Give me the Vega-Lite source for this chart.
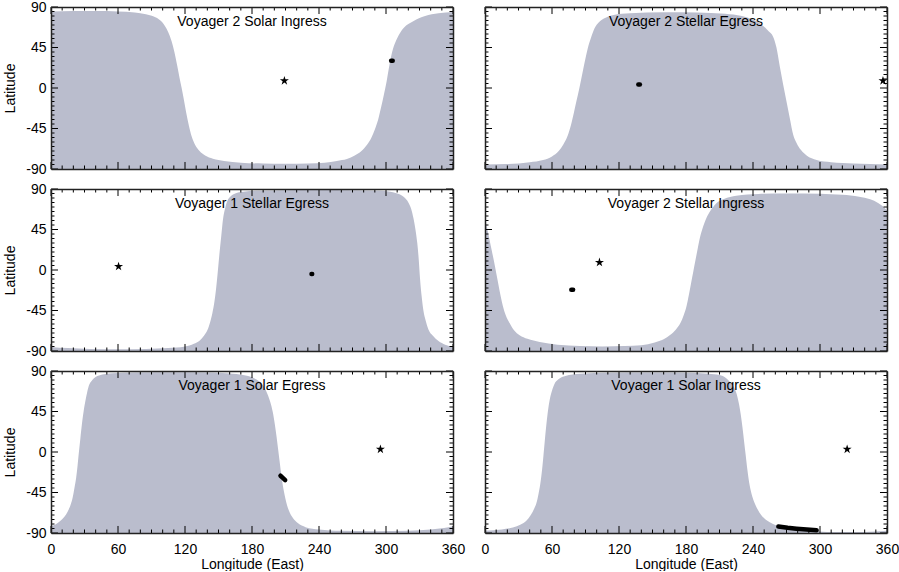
{
"$schema":"https://vega.github.io/schema/vega-lite/v6.json",
"background":"white",
"padding":{"left":3,"top":0,"right":1,"bottom":0},
"datasets":{
"curves":[
{"p":1,"lon":0,"lat":85},{"p":1,"lon":20,"lat":85.5},{"p":1,"lon":40,"lat":85.5},{"p":1,"lon":60,"lat":85},{"p":1,"lon":75,"lat":84},{"p":1,"lon":85,"lat":82},{"p":1,"lon":92,"lat":79.5},{"p":1,"lon":98,"lat":75},{"p":1,"lon":102,"lat":69},{"p":1,"lon":105,"lat":62},{"p":1,"lon":108,"lat":52},{"p":1,"lon":110.5,"lat":40},{"p":1,"lon":113,"lat":25},{"p":1,"lon":115,"lat":12},{"p":1,"lon":117,"lat":0},{"p":1,"lon":119,"lat":-13},{"p":1,"lon":121,"lat":-27},{"p":1,"lon":123.5,"lat":-42},{"p":1,"lon":126,"lat":-54},{"p":1,"lon":129,"lat":-63},{"p":1,"lon":133,"lat":-70},{"p":1,"lon":138,"lat":-75},{"p":1,"lon":145,"lat":-78.5},{"p":1,"lon":155,"lat":-81},{"p":1,"lon":170,"lat":-83},{"p":1,"lon":190,"lat":-84},{"p":1,"lon":210,"lat":-84.3},{"p":1,"lon":230,"lat":-84},{"p":1,"lon":245,"lat":-83},{"p":1,"lon":256,"lat":-81},{"p":1,"lon":265,"lat":-79},{"p":1,"lon":272,"lat":-75},{"p":1,"lon":278,"lat":-70},{"p":1,"lon":283,"lat":-63},{"p":1,"lon":287,"lat":-55},{"p":1,"lon":290,"lat":-46},{"p":1,"lon":293,"lat":-35},{"p":1,"lon":295.5,"lat":-22},{"p":1,"lon":298,"lat":-8},{"p":1,"lon":300.5,"lat":7},{"p":1,"lon":303,"lat":25},{"p":1,"lon":305.5,"lat":40},{"p":1,"lon":308.5,"lat":51},{"p":1,"lon":312,"lat":60},{"p":1,"lon":316,"lat":67},{"p":1,"lon":324,"lat":74},{"p":1,"lon":335,"lat":80},{"p":1,"lon":347,"lat":83},{"p":1,"lon":360,"lat":84.5},
{"p":2,"lon":0,"lat":-85},{"p":2,"lon":20,"lat":-84.5},{"p":2,"lon":40,"lat":-82.5},{"p":2,"lon":52,"lat":-80},{"p":2,"lon":60,"lat":-76},{"p":2,"lon":66,"lat":-70},{"p":2,"lon":70,"lat":-63},{"p":2,"lon":74,"lat":-53},{"p":2,"lon":77,"lat":-41},{"p":2,"lon":79.5,"lat":-28},{"p":2,"lon":82,"lat":-14},{"p":2,"lon":84,"lat":-3},{"p":2,"lon":86,"lat":9},{"p":2,"lon":88,"lat":21},{"p":2,"lon":90,"lat":33},{"p":2,"lon":92,"lat":44},{"p":2,"lon":95,"lat":56},{"p":2,"lon":98,"lat":66},{"p":2,"lon":102,"lat":73},{"p":2,"lon":108,"lat":78},{"p":2,"lon":115,"lat":81},{"p":2,"lon":130,"lat":83},{"p":2,"lon":160,"lat":84.2},{"p":2,"lon":190,"lat":84},{"p":2,"lon":215,"lat":82.5},{"p":2,"lon":230,"lat":80},{"p":2,"lon":240,"lat":76},{"p":2,"lon":248,"lat":70},{"p":2,"lon":254,"lat":63},{"p":2,"lon":258,"lat":57},{"p":2,"lon":261,"lat":45},{"p":2,"lon":264,"lat":24},{"p":2,"lon":267,"lat":4},{"p":2,"lon":270,"lat":-15},{"p":2,"lon":273,"lat":-34},{"p":2,"lon":276,"lat":-52},{"p":2,"lon":279,"lat":-61},{"p":2,"lon":283,"lat":-69},{"p":2,"lon":288,"lat":-75},{"p":2,"lon":297,"lat":-80},{"p":2,"lon":310,"lat":-82.5},{"p":2,"lon":330,"lat":-84},{"p":2,"lon":360,"lat":-85},
{"p":3,"lon":0,"lat":-85.5},{"p":3,"lon":15,"lat":-86.8},{"p":3,"lon":35,"lat":-87.8},{"p":3,"lon":60,"lat":-88},{"p":3,"lon":85,"lat":-87.8},{"p":3,"lon":105,"lat":-86.8},{"p":3,"lon":120,"lat":-85},{"p":3,"lon":128,"lat":-82},{"p":3,"lon":133,"lat":-78.5},{"p":3,"lon":137,"lat":-73},{"p":3,"lon":140,"lat":-67},{"p":3,"lon":142.5,"lat":-58},{"p":3,"lon":144.5,"lat":-48},{"p":3,"lon":146.5,"lat":-34},{"p":3,"lon":148,"lat":-19},{"p":3,"lon":149.5,"lat":0},{"p":3,"lon":151,"lat":20},{"p":3,"lon":152.5,"lat":38},{"p":3,"lon":154,"lat":56},{"p":3,"lon":156,"lat":69},{"p":3,"lon":158,"lat":77},{"p":3,"lon":161,"lat":82},{"p":3,"lon":165,"lat":85},{"p":3,"lon":172,"lat":87},{"p":3,"lon":185,"lat":88},{"p":3,"lon":210,"lat":88.5},{"p":3,"lon":240,"lat":88.8},{"p":3,"lon":270,"lat":88.5},{"p":3,"lon":295,"lat":88},{"p":3,"lon":310,"lat":85},{"p":3,"lon":316,"lat":81},{"p":3,"lon":320,"lat":75},{"p":3,"lon":322.5,"lat":68},{"p":3,"lon":324.5,"lat":58},{"p":3,"lon":326.5,"lat":44},{"p":3,"lon":328,"lat":30},{"p":3,"lon":329.3,"lat":12},{"p":3,"lon":330.5,"lat":-10},{"p":3,"lon":332,"lat":-30},{"p":3,"lon":333.5,"lat":-45},{"p":3,"lon":335.5,"lat":-56},{"p":3,"lon":338,"lat":-66},{"p":3,"lon":342,"lat":-73},{"p":3,"lon":347,"lat":-79},{"p":3,"lon":353,"lat":-83},{"p":3,"lon":360,"lat":-85.5},
{"p":4,"lon":0,"lat":57},{"p":4,"lon":2,"lat":46},{"p":4,"lon":4,"lat":34},{"p":4,"lon":6,"lat":22},{"p":4,"lon":8,"lat":10},{"p":4,"lon":10,"lat":-3},{"p":4,"lon":12,"lat":-16},{"p":4,"lon":14,"lat":-29},{"p":4,"lon":16,"lat":-40},{"p":4,"lon":18.5,"lat":-50},{"p":4,"lon":22,"lat":-59},{"p":4,"lon":26,"lat":-67},{"p":4,"lon":31,"lat":-72.5},{"p":4,"lon":38,"lat":-76.5},{"p":4,"lon":49,"lat":-80},{"p":4,"lon":65,"lat":-83},{"p":4,"lon":85,"lat":-84.5},{"p":4,"lon":105,"lat":-85},{"p":4,"lon":125,"lat":-84.5},{"p":4,"lon":140,"lat":-83.5},{"p":4,"lon":152,"lat":-80.5},{"p":4,"lon":160,"lat":-77},{"p":4,"lon":166,"lat":-72},{"p":4,"lon":171,"lat":-66},{"p":4,"lon":175,"lat":-59},{"p":4,"lon":178,"lat":-50},{"p":4,"lon":180.5,"lat":-40},{"p":4,"lon":182.5,"lat":-28},{"p":4,"lon":184.5,"lat":-15},{"p":4,"lon":186.5,"lat":-2},{"p":4,"lon":188.5,"lat":11},{"p":4,"lon":190.5,"lat":24},{"p":4,"lon":192.5,"lat":36},{"p":4,"lon":195,"lat":47},{"p":4,"lon":198,"lat":57},{"p":4,"lon":202,"lat":66},{"p":4,"lon":207,"lat":74},{"p":4,"lon":214,"lat":79},{"p":4,"lon":225,"lat":82.5},{"p":4,"lon":245,"lat":84.5},{"p":4,"lon":270,"lat":85},{"p":4,"lon":300,"lat":84.8},{"p":4,"lon":320,"lat":83.5},{"p":4,"lon":335,"lat":81.5},{"p":4,"lon":345,"lat":78.5},{"p":4,"lon":352,"lat":74.5},{"p":4,"lon":356,"lat":71},{"p":4,"lon":360,"lat":66},
{"p":5,"lon":0,"lat":-82.5},{"p":5,"lon":4,"lat":-80.5},{"p":5,"lon":8,"lat":-77},{"p":5,"lon":12,"lat":-72},{"p":5,"lon":15,"lat":-66},{"p":5,"lon":17.5,"lat":-59},{"p":5,"lon":19.5,"lat":-50},{"p":5,"lon":21,"lat":-40},{"p":5,"lon":22.5,"lat":-29},{"p":5,"lon":23.8,"lat":-15},{"p":5,"lon":25,"lat":0},{"p":5,"lon":26.3,"lat":15},{"p":5,"lon":27.6,"lat":30},{"p":5,"lon":29.2,"lat":45},{"p":5,"lon":31,"lat":58},{"p":5,"lon":33.5,"lat":72},{"p":5,"lon":37,"lat":80},{"p":5,"lon":43,"lat":85},{"p":5,"lon":55,"lat":87.5},{"p":5,"lon":75,"lat":88.3},{"p":5,"lon":110,"lat":88.5},{"p":5,"lon":140,"lat":88.2},{"p":5,"lon":160,"lat":87.3},{"p":5,"lon":172,"lat":85.5},{"p":5,"lon":181,"lat":82.5},{"p":5,"lon":187,"lat":78},{"p":5,"lon":191,"lat":72},{"p":5,"lon":194,"lat":64},{"p":5,"lon":196.5,"lat":55},{"p":5,"lon":198.5,"lat":45},{"p":5,"lon":200.3,"lat":32},{"p":5,"lon":202,"lat":17},{"p":5,"lon":203.5,"lat":2},{"p":5,"lon":205,"lat":-13},{"p":5,"lon":206.5,"lat":-28},{"p":5,"lon":208.3,"lat":-42},{"p":5,"lon":210.5,"lat":-55},{"p":5,"lon":213,"lat":-65},{"p":5,"lon":216.5,"lat":-73},{"p":5,"lon":221,"lat":-79},{"p":5,"lon":228,"lat":-83.5},{"p":5,"lon":240,"lat":-86},{"p":5,"lon":260,"lat":-87.5},{"p":5,"lon":290,"lat":-88},{"p":5,"lon":320,"lat":-87.5},{"p":5,"lon":340,"lat":-86},{"p":5,"lon":352,"lat":-84.5},{"p":5,"lon":360,"lat":-82.5},
{"p":6,"lon":0,"lat":-87.5},{"p":6,"lon":15,"lat":-86},{"p":6,"lon":25,"lat":-84},{"p":6,"lon":32,"lat":-80.5},{"p":6,"lon":37,"lat":-76.5},{"p":6,"lon":41,"lat":-70},{"p":6,"lon":44,"lat":-63},{"p":6,"lon":46,"lat":-57},{"p":6,"lon":48,"lat":-46},{"p":6,"lon":50,"lat":-31},{"p":6,"lon":51.5,"lat":-15},{"p":6,"lon":53,"lat":5},{"p":6,"lon":54.5,"lat":25},{"p":6,"lon":56,"lat":42},{"p":6,"lon":57.5,"lat":55},{"p":6,"lon":59.5,"lat":66},{"p":6,"lon":62,"lat":75},{"p":6,"lon":66,"lat":81},{"p":6,"lon":72,"lat":84.5},{"p":6,"lon":85,"lat":87},{"p":6,"lon":110,"lat":88},{"p":6,"lon":145,"lat":88.3},{"p":6,"lon":180,"lat":88},{"p":6,"lon":200,"lat":87},{"p":6,"lon":210,"lat":85.5},{"p":6,"lon":216,"lat":82},{"p":6,"lon":220,"lat":77},{"p":6,"lon":223,"lat":72},{"p":6,"lon":225.5,"lat":64},{"p":6,"lon":227.5,"lat":53},{"p":6,"lon":229,"lat":42},{"p":6,"lon":230.5,"lat":28},{"p":6,"lon":232,"lat":12},{"p":6,"lon":233.5,"lat":-4},{"p":6,"lon":235,"lat":-20},{"p":6,"lon":237,"lat":-37},{"p":6,"lon":239.5,"lat":-50},{"p":6,"lon":243,"lat":-61},{"p":6,"lon":248,"lat":-71},{"p":6,"lon":255,"lat":-78},{"p":6,"lon":265,"lat":-83},{"p":6,"lon":276,"lat":-86},{"p":6,"lon":295,"lat":-88},{"p":6,"lon":318,"lat":-89},{"p":6,"lon":340,"lat":-88.8},{"p":6,"lon":360,"lat":-87.5}
],
"tracks":[
{"p":1,"lon":304.6,"lat":30.3},{"p":1,"lon":306,"lat":30.3},
{"p":2,"lon":137.3,"lat":3.8},{"p":2,"lon":138.7,"lat":3.8},
{"p":3,"lon":233.3,"lat":-4.5},{"p":3,"lon":233.9,"lat":-4.5},
{"p":4,"lon":77.3,"lat":-22},{"p":4,"lon":78.9,"lat":-22},
{"p":5,"lon":205.5,"lat":-26.4},{"p":5,"lon":207.6,"lat":-28.8},{"p":5,"lon":209.7,"lat":-31.3},
{"p":6,"lon":262.7,"lat":-82.8},{"p":6,"lon":271,"lat":-84.2},{"p":6,"lon":279,"lat":-85.2},{"p":6,"lon":288,"lat":-86.2},{"p":6,"lon":297,"lat":-87}
],
"stars":[
{"p":1,"lon":209,"lat":8},{"p":2,"lon":356.4,"lat":8},{"p":3,"lon":60.5,"lat":4},{"p":4,"lon":102.5,"lat":8.5},{"p":5,"lon":295,"lat":3},{"p":6,"lon":324.3,"lat":3}
],
"titles":[
{"p":1,"t":"Voyager 2 Solar Ingress"},{"p":2,"t":"Voyager 2 Stellar Egress"},{"p":3,"t":"Voyager 1 Stellar Egress"},{"p":4,"t":"Voyager 2 Stellar Ingress"},{"p":5,"t":"Voyager 1 Solar Egress"},{"p":6,"t":"Voyager 1 Solar Ingress"}
],
"xt":[
{"v":0,"k":"M"},{"v":10,"k":"m"},{"v":20,"k":"m"},{"v":30,"k":"m"},{"v":40,"k":"m"},{"v":50,"k":"m"},{"v":60,"k":"M"},{"v":70,"k":"m"},{"v":80,"k":"m"},{"v":90,"k":"m"},{"v":100,"k":"m"},{"v":110,"k":"m"},{"v":120,"k":"M"},{"v":130,"k":"m"},{"v":140,"k":"m"},{"v":150,"k":"m"},{"v":160,"k":"m"},{"v":170,"k":"m"},{"v":180,"k":"M"},{"v":190,"k":"m"},{"v":200,"k":"m"},{"v":210,"k":"m"},{"v":220,"k":"m"},{"v":230,"k":"m"},{"v":240,"k":"M"},{"v":250,"k":"m"},{"v":260,"k":"m"},{"v":270,"k":"m"},{"v":280,"k":"m"},{"v":290,"k":"m"},{"v":300,"k":"M"},{"v":310,"k":"m"},{"v":320,"k":"m"},{"v":330,"k":"m"},{"v":340,"k":"m"},{"v":350,"k":"m"},{"v":360,"k":"M"}
],
"yt":[
{"v":-90,"k":"M"},{"v":-85,"k":"m"},{"v":-80,"k":"m"},{"v":-75,"k":"m"},{"v":-70,"k":"m"},{"v":-65,"k":"m"},{"v":-60,"k":"m"},{"v":-55,"k":"m"},{"v":-50,"k":"m"},{"v":-45,"k":"M"},{"v":-40,"k":"m"},{"v":-35,"k":"m"},{"v":-30,"k":"m"},{"v":-25,"k":"m"},{"v":-20,"k":"m"},{"v":-15,"k":"m"},{"v":-10,"k":"m"},{"v":-5,"k":"m"},{"v":0,"k":"M"},{"v":5,"k":"m"},{"v":10,"k":"m"},{"v":15,"k":"m"},{"v":20,"k":"m"},{"v":25,"k":"m"},{"v":30,"k":"m"},{"v":35,"k":"m"},{"v":40,"k":"m"},{"v":45,"k":"M"},{"v":50,"k":"m"},{"v":55,"k":"m"},{"v":60,"k":"m"},{"v":65,"k":"m"},{"v":70,"k":"m"},{"v":75,"k":"m"},{"v":80,"k":"m"},{"v":85,"k":"m"},{"v":90,"k":"M"}
]
},
"columns":2,
"spacing":{"row":20,"column":32},
"bounds":"flush",
"concat":[
{"width":402,"height":162,"resolve":{"axis":{"x":"independent","y":"independent"}},
"layer":[
{"data":{"name":"curves"},"transform":[{"filter":"datum.p==1"}],"mark":{"type":"area","color":"#babdcd","interpolate":"monotone"},
"encoding":{"x":{"field":"lon","type":"quantitative","scale":{"domain":[0,360],"nice":false,"zero":false},"axis":{"orient":"bottom","ticks":false,"labels":false,"title":null,"domain":true,"zindex":1}},
"y":{"field":"lat","type":"quantitative","scale":{"domain":[-90,90],"nice":false,"zero":false},"axis":{"orient":"left","values":[-90,-45,0,45,90],"ticks":false,"labels":true,"labelPadding":5,"labelExpr":"''+datum.value","title":"Latitude","titlePadding":8,"domain":true,"zindex":1}},
"y2":{"datum":-90}}},
{"data":{"name":"xt"},"transform":[{"filter":"datum.k=='M'"}],"mark":{"type":"rule","color":"#000","strokeWidth":1},"encoding":{"x":{"field":"v","type":"quantitative","axis":null},"y":{"datum":-90,"type":"quantitative","axis":null},"y2":{"datum":-82.2}}},
{"data":{"name":"xt"},"transform":[{"filter":"datum.k=='m'"}],"mark":{"type":"rule","color":"#000","strokeWidth":1},"encoding":{"x":{"field":"v","type":"quantitative","axis":null},"y":{"datum":-90,"type":"quantitative","axis":null},"y2":{"datum":-86.1}}},
{"data":{"name":"xt"},"transform":[{"filter":"datum.k=='M'"}],"mark":{"type":"rule","color":"#000","strokeWidth":1},"encoding":{"x":{"field":"v","type":"quantitative","axis":null},"y":{"datum":90,"type":"quantitative","axis":null},"y2":{"datum":82.2}}},
{"data":{"name":"xt"},"transform":[{"filter":"datum.k=='m'"}],"mark":{"type":"rule","color":"#000","strokeWidth":1},"encoding":{"x":{"field":"v","type":"quantitative","axis":null},"y":{"datum":90,"type":"quantitative","axis":null},"y2":{"datum":86.1}}},
{"data":{"name":"yt"},"transform":[{"filter":"datum.k=='M'"}],"mark":{"type":"rule","color":"#000","strokeWidth":1},"encoding":{"y":{"field":"v","type":"quantitative","axis":null},"x":{"datum":0,"type":"quantitative","axis":null},"x2":{"datum":6.27}}},
{"data":{"name":"yt"},"transform":[{"filter":"datum.k=='m'"}],"mark":{"type":"rule","color":"#000","strokeWidth":1},"encoding":{"y":{"field":"v","type":"quantitative","axis":null},"x":{"datum":0,"type":"quantitative","axis":null},"x2":{"datum":3.13}}},
{"data":{"name":"yt"},"transform":[{"filter":"datum.k=='M'"}],"mark":{"type":"rule","color":"#000","strokeWidth":1},"encoding":{"y":{"field":"v","type":"quantitative","axis":null},"x":{"datum":360,"type":"quantitative","axis":null},"x2":{"datum":353.73}}},
{"data":{"name":"yt"},"transform":[{"filter":"datum.k=='m'"}],"mark":{"type":"rule","color":"#000","strokeWidth":1},"encoding":{"y":{"field":"v","type":"quantitative","axis":null},"x":{"datum":360,"type":"quantitative","axis":null},"x2":{"datum":356.87}}},
{"data":{"name":"tracks"},"transform":[{"filter":"datum.p==1"}],"mark":{"type":"line","color":"black","strokeWidth":4.5,"strokeCap":"round"},
"encoding":{"x":{"field":"lon","type":"quantitative","axis":null},"y":{"field":"lat","type":"quantitative","axis":null}}},
{"data":{"name":"stars"},"transform":[{"filter":"datum.p==1"}],"mark":{"type":"point","shape":"M0,-1L0.225,-0.309L0.951,-0.309L0.363,0.118L0.588,0.809L0,0.382L-0.588,0.809L-0.363,0.118L-0.951,-0.309L-0.225,-0.309Z","filled":true,"color":"black","size":90,"opacity":1},
"encoding":{"x":{"field":"lon","type":"quantitative","axis":{"orient":"top","ticks":false,"labels":false,"title":null,"domain":true,"zindex":1}},
"y":{"field":"lat","type":"quantitative","axis":{"orient":"right","ticks":false,"labels":false,"title":null,"domain":true,"zindex":1}}}},
{"data":{"name":"titles"},"transform":[{"filter":"datum.p==1"}],"mark":{"type":"text","fontSize":14,"font":"Liberation Sans","color":"black","baseline":"middle","align":"center"},
"encoding":{"x":{"datum":180,"type":"quantitative","axis":null},"y":{"datum":73,"type":"quantitative","axis":null},"text":{"field":"t"}}}
]},
{"width":402,"height":162,"resolve":{"axis":{"x":"independent","y":"independent"}},
"layer":[
{"data":{"name":"curves"},"transform":[{"filter":"datum.p==2"}],"mark":{"type":"area","color":"#babdcd","interpolate":"monotone"},
"encoding":{"x":{"field":"lon","type":"quantitative","scale":{"domain":[0,360],"nice":false,"zero":false},"axis":{"orient":"bottom","ticks":false,"labels":false,"title":null,"domain":true,"zindex":1}},
"y":{"field":"lat","type":"quantitative","scale":{"domain":[-90,90],"nice":false,"zero":false},"axis":{"orient":"left","ticks":false,"labels":false,"title":null,"domain":true,"zindex":1}},
"y2":{"datum":-90}}},
{"data":{"name":"xt"},"transform":[{"filter":"datum.k=='M'"}],"mark":{"type":"rule","color":"#000","strokeWidth":1},"encoding":{"x":{"field":"v","type":"quantitative","axis":null},"y":{"datum":-90,"type":"quantitative","axis":null},"y2":{"datum":-82.2}}},
{"data":{"name":"xt"},"transform":[{"filter":"datum.k=='m'"}],"mark":{"type":"rule","color":"#000","strokeWidth":1},"encoding":{"x":{"field":"v","type":"quantitative","axis":null},"y":{"datum":-90,"type":"quantitative","axis":null},"y2":{"datum":-86.1}}},
{"data":{"name":"xt"},"transform":[{"filter":"datum.k=='M'"}],"mark":{"type":"rule","color":"#000","strokeWidth":1},"encoding":{"x":{"field":"v","type":"quantitative","axis":null},"y":{"datum":90,"type":"quantitative","axis":null},"y2":{"datum":82.2}}},
{"data":{"name":"xt"},"transform":[{"filter":"datum.k=='m'"}],"mark":{"type":"rule","color":"#000","strokeWidth":1},"encoding":{"x":{"field":"v","type":"quantitative","axis":null},"y":{"datum":90,"type":"quantitative","axis":null},"y2":{"datum":86.1}}},
{"data":{"name":"yt"},"transform":[{"filter":"datum.k=='M'"}],"mark":{"type":"rule","color":"#000","strokeWidth":1},"encoding":{"y":{"field":"v","type":"quantitative","axis":null},"x":{"datum":0,"type":"quantitative","axis":null},"x2":{"datum":6.27}}},
{"data":{"name":"yt"},"transform":[{"filter":"datum.k=='m'"}],"mark":{"type":"rule","color":"#000","strokeWidth":1},"encoding":{"y":{"field":"v","type":"quantitative","axis":null},"x":{"datum":0,"type":"quantitative","axis":null},"x2":{"datum":3.13}}},
{"data":{"name":"yt"},"transform":[{"filter":"datum.k=='M'"}],"mark":{"type":"rule","color":"#000","strokeWidth":1},"encoding":{"y":{"field":"v","type":"quantitative","axis":null},"x":{"datum":360,"type":"quantitative","axis":null},"x2":{"datum":353.73}}},
{"data":{"name":"yt"},"transform":[{"filter":"datum.k=='m'"}],"mark":{"type":"rule","color":"#000","strokeWidth":1},"encoding":{"y":{"field":"v","type":"quantitative","axis":null},"x":{"datum":360,"type":"quantitative","axis":null},"x2":{"datum":356.87}}},
{"data":{"name":"tracks"},"transform":[{"filter":"datum.p==2"}],"mark":{"type":"line","color":"black","strokeWidth":4.5,"strokeCap":"round"},
"encoding":{"x":{"field":"lon","type":"quantitative","axis":null},"y":{"field":"lat","type":"quantitative","axis":null}}},
{"data":{"name":"stars"},"transform":[{"filter":"datum.p==2"}],"mark":{"type":"point","shape":"M0,-1L0.225,-0.309L0.951,-0.309L0.363,0.118L0.588,0.809L0,0.382L-0.588,0.809L-0.363,0.118L-0.951,-0.309L-0.225,-0.309Z","filled":true,"color":"black","size":90,"opacity":1},
"encoding":{"x":{"field":"lon","type":"quantitative","axis":{"orient":"top","ticks":false,"labels":false,"title":null,"domain":true,"zindex":1}},
"y":{"field":"lat","type":"quantitative","axis":{"orient":"right","ticks":false,"labels":false,"title":null,"domain":true,"zindex":1}}}},
{"data":{"name":"titles"},"transform":[{"filter":"datum.p==2"}],"mark":{"type":"text","fontSize":14,"font":"Liberation Sans","color":"black","baseline":"middle","align":"center"},
"encoding":{"x":{"datum":180,"type":"quantitative","axis":null},"y":{"datum":73,"type":"quantitative","axis":null},"text":{"field":"t"}}}
]},
{"width":402,"height":162,"resolve":{"axis":{"x":"independent","y":"independent"}},
"layer":[
{"data":{"name":"curves"},"transform":[{"filter":"datum.p==3"}],"mark":{"type":"area","color":"#babdcd","interpolate":"monotone"},
"encoding":{"x":{"field":"lon","type":"quantitative","scale":{"domain":[0,360],"nice":false,"zero":false},"axis":{"orient":"bottom","ticks":false,"labels":false,"title":null,"domain":true,"zindex":1}},
"y":{"field":"lat","type":"quantitative","scale":{"domain":[-90,90],"nice":false,"zero":false},"axis":{"orient":"left","values":[-90,-45,0,45,90],"ticks":false,"labels":true,"labelPadding":5,"labelExpr":"''+datum.value","title":"Latitude","titlePadding":8,"domain":true,"zindex":1}},
"y2":{"datum":-90}}},
{"data":{"name":"xt"},"transform":[{"filter":"datum.k=='M'"}],"mark":{"type":"rule","color":"#000","strokeWidth":1},"encoding":{"x":{"field":"v","type":"quantitative","axis":null},"y":{"datum":-90,"type":"quantitative","axis":null},"y2":{"datum":-82.2}}},
{"data":{"name":"xt"},"transform":[{"filter":"datum.k=='m'"}],"mark":{"type":"rule","color":"#000","strokeWidth":1},"encoding":{"x":{"field":"v","type":"quantitative","axis":null},"y":{"datum":-90,"type":"quantitative","axis":null},"y2":{"datum":-86.1}}},
{"data":{"name":"xt"},"transform":[{"filter":"datum.k=='M'"}],"mark":{"type":"rule","color":"#000","strokeWidth":1},"encoding":{"x":{"field":"v","type":"quantitative","axis":null},"y":{"datum":90,"type":"quantitative","axis":null},"y2":{"datum":82.2}}},
{"data":{"name":"xt"},"transform":[{"filter":"datum.k=='m'"}],"mark":{"type":"rule","color":"#000","strokeWidth":1},"encoding":{"x":{"field":"v","type":"quantitative","axis":null},"y":{"datum":90,"type":"quantitative","axis":null},"y2":{"datum":86.1}}},
{"data":{"name":"yt"},"transform":[{"filter":"datum.k=='M'"}],"mark":{"type":"rule","color":"#000","strokeWidth":1},"encoding":{"y":{"field":"v","type":"quantitative","axis":null},"x":{"datum":0,"type":"quantitative","axis":null},"x2":{"datum":6.27}}},
{"data":{"name":"yt"},"transform":[{"filter":"datum.k=='m'"}],"mark":{"type":"rule","color":"#000","strokeWidth":1},"encoding":{"y":{"field":"v","type":"quantitative","axis":null},"x":{"datum":0,"type":"quantitative","axis":null},"x2":{"datum":3.13}}},
{"data":{"name":"yt"},"transform":[{"filter":"datum.k=='M'"}],"mark":{"type":"rule","color":"#000","strokeWidth":1},"encoding":{"y":{"field":"v","type":"quantitative","axis":null},"x":{"datum":360,"type":"quantitative","axis":null},"x2":{"datum":353.73}}},
{"data":{"name":"yt"},"transform":[{"filter":"datum.k=='m'"}],"mark":{"type":"rule","color":"#000","strokeWidth":1},"encoding":{"y":{"field":"v","type":"quantitative","axis":null},"x":{"datum":360,"type":"quantitative","axis":null},"x2":{"datum":356.87}}},
{"data":{"name":"tracks"},"transform":[{"filter":"datum.p==3"}],"mark":{"type":"line","color":"black","strokeWidth":4.5,"strokeCap":"round"},
"encoding":{"x":{"field":"lon","type":"quantitative","axis":null},"y":{"field":"lat","type":"quantitative","axis":null}}},
{"data":{"name":"stars"},"transform":[{"filter":"datum.p==3"}],"mark":{"type":"point","shape":"M0,-1L0.225,-0.309L0.951,-0.309L0.363,0.118L0.588,0.809L0,0.382L-0.588,0.809L-0.363,0.118L-0.951,-0.309L-0.225,-0.309Z","filled":true,"color":"black","size":90,"opacity":1},
"encoding":{"x":{"field":"lon","type":"quantitative","axis":{"orient":"top","ticks":false,"labels":false,"title":null,"domain":true,"zindex":1}},
"y":{"field":"lat","type":"quantitative","axis":{"orient":"right","ticks":false,"labels":false,"title":null,"domain":true,"zindex":1}}}},
{"data":{"name":"titles"},"transform":[{"filter":"datum.p==3"}],"mark":{"type":"text","fontSize":14,"font":"Liberation Sans","color":"black","baseline":"middle","align":"center"},
"encoding":{"x":{"datum":180,"type":"quantitative","axis":null},"y":{"datum":73,"type":"quantitative","axis":null},"text":{"field":"t"}}}
]},
{"width":402,"height":162,"resolve":{"axis":{"x":"independent","y":"independent"}},
"layer":[
{"data":{"name":"curves"},"transform":[{"filter":"datum.p==4"}],"mark":{"type":"area","color":"#babdcd","interpolate":"monotone"},
"encoding":{"x":{"field":"lon","type":"quantitative","scale":{"domain":[0,360],"nice":false,"zero":false},"axis":{"orient":"bottom","ticks":false,"labels":false,"title":null,"domain":true,"zindex":1}},
"y":{"field":"lat","type":"quantitative","scale":{"domain":[-90,90],"nice":false,"zero":false},"axis":{"orient":"left","ticks":false,"labels":false,"title":null,"domain":true,"zindex":1}},
"y2":{"datum":-90}}},
{"data":{"name":"xt"},"transform":[{"filter":"datum.k=='M'"}],"mark":{"type":"rule","color":"#000","strokeWidth":1},"encoding":{"x":{"field":"v","type":"quantitative","axis":null},"y":{"datum":-90,"type":"quantitative","axis":null},"y2":{"datum":-82.2}}},
{"data":{"name":"xt"},"transform":[{"filter":"datum.k=='m'"}],"mark":{"type":"rule","color":"#000","strokeWidth":1},"encoding":{"x":{"field":"v","type":"quantitative","axis":null},"y":{"datum":-90,"type":"quantitative","axis":null},"y2":{"datum":-86.1}}},
{"data":{"name":"xt"},"transform":[{"filter":"datum.k=='M'"}],"mark":{"type":"rule","color":"#000","strokeWidth":1},"encoding":{"x":{"field":"v","type":"quantitative","axis":null},"y":{"datum":90,"type":"quantitative","axis":null},"y2":{"datum":82.2}}},
{"data":{"name":"xt"},"transform":[{"filter":"datum.k=='m'"}],"mark":{"type":"rule","color":"#000","strokeWidth":1},"encoding":{"x":{"field":"v","type":"quantitative","axis":null},"y":{"datum":90,"type":"quantitative","axis":null},"y2":{"datum":86.1}}},
{"data":{"name":"yt"},"transform":[{"filter":"datum.k=='M'"}],"mark":{"type":"rule","color":"#000","strokeWidth":1},"encoding":{"y":{"field":"v","type":"quantitative","axis":null},"x":{"datum":0,"type":"quantitative","axis":null},"x2":{"datum":6.27}}},
{"data":{"name":"yt"},"transform":[{"filter":"datum.k=='m'"}],"mark":{"type":"rule","color":"#000","strokeWidth":1},"encoding":{"y":{"field":"v","type":"quantitative","axis":null},"x":{"datum":0,"type":"quantitative","axis":null},"x2":{"datum":3.13}}},
{"data":{"name":"yt"},"transform":[{"filter":"datum.k=='M'"}],"mark":{"type":"rule","color":"#000","strokeWidth":1},"encoding":{"y":{"field":"v","type":"quantitative","axis":null},"x":{"datum":360,"type":"quantitative","axis":null},"x2":{"datum":353.73}}},
{"data":{"name":"yt"},"transform":[{"filter":"datum.k=='m'"}],"mark":{"type":"rule","color":"#000","strokeWidth":1},"encoding":{"y":{"field":"v","type":"quantitative","axis":null},"x":{"datum":360,"type":"quantitative","axis":null},"x2":{"datum":356.87}}},
{"data":{"name":"tracks"},"transform":[{"filter":"datum.p==4"}],"mark":{"type":"line","color":"black","strokeWidth":4.5,"strokeCap":"round"},
"encoding":{"x":{"field":"lon","type":"quantitative","axis":null},"y":{"field":"lat","type":"quantitative","axis":null}}},
{"data":{"name":"stars"},"transform":[{"filter":"datum.p==4"}],"mark":{"type":"point","shape":"M0,-1L0.225,-0.309L0.951,-0.309L0.363,0.118L0.588,0.809L0,0.382L-0.588,0.809L-0.363,0.118L-0.951,-0.309L-0.225,-0.309Z","filled":true,"color":"black","size":90,"opacity":1},
"encoding":{"x":{"field":"lon","type":"quantitative","axis":{"orient":"top","ticks":false,"labels":false,"title":null,"domain":true,"zindex":1}},
"y":{"field":"lat","type":"quantitative","axis":{"orient":"right","ticks":false,"labels":false,"title":null,"domain":true,"zindex":1}}}},
{"data":{"name":"titles"},"transform":[{"filter":"datum.p==4"}],"mark":{"type":"text","fontSize":14,"font":"Liberation Sans","color":"black","baseline":"middle","align":"center"},
"encoding":{"x":{"datum":180,"type":"quantitative","axis":null},"y":{"datum":73,"type":"quantitative","axis":null},"text":{"field":"t"}}}
]},
{"width":402,"height":162,"resolve":{"axis":{"x":"independent","y":"independent"}},
"layer":[
{"data":{"name":"curves"},"transform":[{"filter":"datum.p==5"}],"mark":{"type":"area","color":"#babdcd","interpolate":"monotone"},
"encoding":{"x":{"field":"lon","type":"quantitative","scale":{"domain":[0,360],"nice":false,"zero":false},"axis":{"orient":"bottom","values":[0,60,120,180,240,300,360],"ticks":false,"labels":true,"labelPadding":9,"labelFlush":false,"labelExpr":"''+datum.value","title":"Longitude (East)","titlePadding":1,"domain":true,"zindex":1}},
"y":{"field":"lat","type":"quantitative","scale":{"domain":[-90,90],"nice":false,"zero":false},"axis":{"orient":"left","values":[-90,-45,0,45,90],"ticks":false,"labels":true,"labelPadding":5,"labelExpr":"''+datum.value","title":"Latitude","titlePadding":8,"domain":true,"zindex":1}},
"y2":{"datum":-90}}},
{"data":{"name":"xt"},"transform":[{"filter":"datum.k=='M'"}],"mark":{"type":"rule","color":"#000","strokeWidth":1},"encoding":{"x":{"field":"v","type":"quantitative","axis":null},"y":{"datum":-90,"type":"quantitative","axis":null},"y2":{"datum":-82.2}}},
{"data":{"name":"xt"},"transform":[{"filter":"datum.k=='m'"}],"mark":{"type":"rule","color":"#000","strokeWidth":1},"encoding":{"x":{"field":"v","type":"quantitative","axis":null},"y":{"datum":-90,"type":"quantitative","axis":null},"y2":{"datum":-86.1}}},
{"data":{"name":"xt"},"transform":[{"filter":"datum.k=='M'"}],"mark":{"type":"rule","color":"#000","strokeWidth":1},"encoding":{"x":{"field":"v","type":"quantitative","axis":null},"y":{"datum":90,"type":"quantitative","axis":null},"y2":{"datum":82.2}}},
{"data":{"name":"xt"},"transform":[{"filter":"datum.k=='m'"}],"mark":{"type":"rule","color":"#000","strokeWidth":1},"encoding":{"x":{"field":"v","type":"quantitative","axis":null},"y":{"datum":90,"type":"quantitative","axis":null},"y2":{"datum":86.1}}},
{"data":{"name":"yt"},"transform":[{"filter":"datum.k=='M'"}],"mark":{"type":"rule","color":"#000","strokeWidth":1},"encoding":{"y":{"field":"v","type":"quantitative","axis":null},"x":{"datum":0,"type":"quantitative","axis":null},"x2":{"datum":6.27}}},
{"data":{"name":"yt"},"transform":[{"filter":"datum.k=='m'"}],"mark":{"type":"rule","color":"#000","strokeWidth":1},"encoding":{"y":{"field":"v","type":"quantitative","axis":null},"x":{"datum":0,"type":"quantitative","axis":null},"x2":{"datum":3.13}}},
{"data":{"name":"yt"},"transform":[{"filter":"datum.k=='M'"}],"mark":{"type":"rule","color":"#000","strokeWidth":1},"encoding":{"y":{"field":"v","type":"quantitative","axis":null},"x":{"datum":360,"type":"quantitative","axis":null},"x2":{"datum":353.73}}},
{"data":{"name":"yt"},"transform":[{"filter":"datum.k=='m'"}],"mark":{"type":"rule","color":"#000","strokeWidth":1},"encoding":{"y":{"field":"v","type":"quantitative","axis":null},"x":{"datum":360,"type":"quantitative","axis":null},"x2":{"datum":356.87}}},
{"data":{"name":"tracks"},"transform":[{"filter":"datum.p==5"}],"mark":{"type":"line","color":"black","strokeWidth":4.5,"strokeCap":"round"},
"encoding":{"x":{"field":"lon","type":"quantitative","axis":null},"y":{"field":"lat","type":"quantitative","axis":null}}},
{"data":{"name":"stars"},"transform":[{"filter":"datum.p==5"}],"mark":{"type":"point","shape":"M0,-1L0.225,-0.309L0.951,-0.309L0.363,0.118L0.588,0.809L0,0.382L-0.588,0.809L-0.363,0.118L-0.951,-0.309L-0.225,-0.309Z","filled":true,"color":"black","size":90,"opacity":1},
"encoding":{"x":{"field":"lon","type":"quantitative","axis":{"orient":"top","ticks":false,"labels":false,"title":null,"domain":true,"zindex":1}},
"y":{"field":"lat","type":"quantitative","axis":{"orient":"right","ticks":false,"labels":false,"title":null,"domain":true,"zindex":1}}}},
{"data":{"name":"titles"},"transform":[{"filter":"datum.p==5"}],"mark":{"type":"text","fontSize":14,"font":"Liberation Sans","color":"black","baseline":"middle","align":"center"},
"encoding":{"x":{"datum":180,"type":"quantitative","axis":null},"y":{"datum":73,"type":"quantitative","axis":null},"text":{"field":"t"}}}
]},
{"width":402,"height":162,"resolve":{"axis":{"x":"independent","y":"independent"}},
"layer":[
{"data":{"name":"curves"},"transform":[{"filter":"datum.p==6"}],"mark":{"type":"area","color":"#babdcd","interpolate":"monotone"},
"encoding":{"x":{"field":"lon","type":"quantitative","scale":{"domain":[0,360],"nice":false,"zero":false},"axis":{"orient":"bottom","values":[0,60,120,180,240,300,360],"ticks":false,"labels":true,"labelPadding":9,"labelFlush":false,"labelExpr":"''+datum.value","title":"Longitude (East)","titlePadding":1,"domain":true,"zindex":1}},
"y":{"field":"lat","type":"quantitative","scale":{"domain":[-90,90],"nice":false,"zero":false},"axis":{"orient":"left","ticks":false,"labels":false,"title":null,"domain":true,"zindex":1}},
"y2":{"datum":-90}}},
{"data":{"name":"xt"},"transform":[{"filter":"datum.k=='M'"}],"mark":{"type":"rule","color":"#000","strokeWidth":1},"encoding":{"x":{"field":"v","type":"quantitative","axis":null},"y":{"datum":-90,"type":"quantitative","axis":null},"y2":{"datum":-82.2}}},
{"data":{"name":"xt"},"transform":[{"filter":"datum.k=='m'"}],"mark":{"type":"rule","color":"#000","strokeWidth":1},"encoding":{"x":{"field":"v","type":"quantitative","axis":null},"y":{"datum":-90,"type":"quantitative","axis":null},"y2":{"datum":-86.1}}},
{"data":{"name":"xt"},"transform":[{"filter":"datum.k=='M'"}],"mark":{"type":"rule","color":"#000","strokeWidth":1},"encoding":{"x":{"field":"v","type":"quantitative","axis":null},"y":{"datum":90,"type":"quantitative","axis":null},"y2":{"datum":82.2}}},
{"data":{"name":"xt"},"transform":[{"filter":"datum.k=='m'"}],"mark":{"type":"rule","color":"#000","strokeWidth":1},"encoding":{"x":{"field":"v","type":"quantitative","axis":null},"y":{"datum":90,"type":"quantitative","axis":null},"y2":{"datum":86.1}}},
{"data":{"name":"yt"},"transform":[{"filter":"datum.k=='M'"}],"mark":{"type":"rule","color":"#000","strokeWidth":1},"encoding":{"y":{"field":"v","type":"quantitative","axis":null},"x":{"datum":0,"type":"quantitative","axis":null},"x2":{"datum":6.27}}},
{"data":{"name":"yt"},"transform":[{"filter":"datum.k=='m'"}],"mark":{"type":"rule","color":"#000","strokeWidth":1},"encoding":{"y":{"field":"v","type":"quantitative","axis":null},"x":{"datum":0,"type":"quantitative","axis":null},"x2":{"datum":3.13}}},
{"data":{"name":"yt"},"transform":[{"filter":"datum.k=='M'"}],"mark":{"type":"rule","color":"#000","strokeWidth":1},"encoding":{"y":{"field":"v","type":"quantitative","axis":null},"x":{"datum":360,"type":"quantitative","axis":null},"x2":{"datum":353.73}}},
{"data":{"name":"yt"},"transform":[{"filter":"datum.k=='m'"}],"mark":{"type":"rule","color":"#000","strokeWidth":1},"encoding":{"y":{"field":"v","type":"quantitative","axis":null},"x":{"datum":360,"type":"quantitative","axis":null},"x2":{"datum":356.87}}},
{"data":{"name":"tracks"},"transform":[{"filter":"datum.p==6"}],"mark":{"type":"line","color":"black","strokeWidth":4.5,"strokeCap":"round"},
"encoding":{"x":{"field":"lon","type":"quantitative","axis":null},"y":{"field":"lat","type":"quantitative","axis":null}}},
{"data":{"name":"stars"},"transform":[{"filter":"datum.p==6"}],"mark":{"type":"point","shape":"M0,-1L0.225,-0.309L0.951,-0.309L0.363,0.118L0.588,0.809L0,0.382L-0.588,0.809L-0.363,0.118L-0.951,-0.309L-0.225,-0.309Z","filled":true,"color":"black","size":90,"opacity":1},
"encoding":{"x":{"field":"lon","type":"quantitative","axis":{"orient":"top","ticks":false,"labels":false,"title":null,"domain":true,"zindex":1}},
"y":{"field":"lat","type":"quantitative","axis":{"orient":"right","ticks":false,"labels":false,"title":null,"domain":true,"zindex":1}}}},
{"data":{"name":"titles"},"transform":[{"filter":"datum.p==6"}],"mark":{"type":"text","fontSize":14,"font":"Liberation Sans","color":"black","baseline":"middle","align":"center"},
"encoding":{"x":{"datum":180,"type":"quantitative","axis":null},"y":{"datum":73,"type":"quantitative","axis":null},"text":{"field":"t"}}}
]}
],
"config":{
"view":{"stroke":null},
"axis":{"domain":false,"grid":false,"domainColor":"#222","domainWidth":1.5,"labelFont":"Liberation Sans","labelFontSize":14,"labelColor":"#000","titleFont":"Liberation Sans","titleFontSize":14,"titleFontWeight":"normal","titleColor":"#000"}
}
}
